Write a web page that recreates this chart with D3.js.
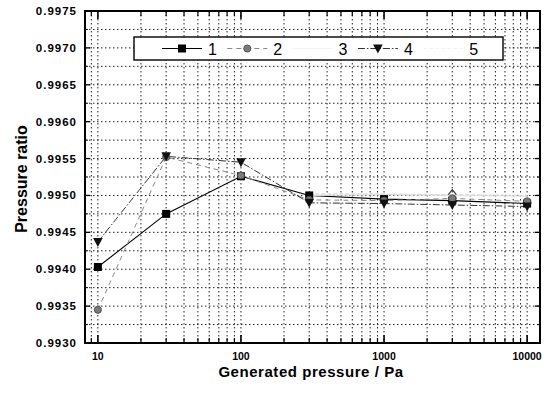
<!DOCTYPE html>
<html><head><meta charset="utf-8">
<script src="https://cdn.jsdelivr.net/npm/d3@7"></script>
<style>body{margin:0;background:#fff}svg{display:block}</style>
</head><body>
<script>
const pressures = [10, 30, 100, 300, 1000, 3000, 10000];
const series1 = [0.99403, 0.99475, 0.99526, 0.99500, 0.99495, 0.99493, 0.99489];
const series2 = [0.99345, 0.99552, 0.99527, 0.99494, 0.99493, 0.99496, 0.99492];
const series3 = [null, null, null, 0.99500, 0.99501, 0.99500, 0.99499];
const series4 = [0.99437, 0.99553, 0.99545, 0.99490, 0.99489, 0.99487, 0.99485];
const series5 = [null, null, null, 0.99502, 0.99502, 0.99501, 0.99500];
const seriesNames = ["1", "2", "3", "4", "5"];
const yTickLabels = ["0.9930","0.9935","0.9940","0.9945","0.9950","0.9955","0.9960","0.9965","0.9970","0.9975"];
const xTickLabels = ["10", "100", "1000", "10000"];

const W = 551, H = 394;
const svg = d3.select("body").append("svg").attr("width", W).attr("height", H);
const L = 85, R = 540, T = 11, B = 343;
const x = d3.scaleLog().domain([Math.pow(10, 0.91), Math.pow(10, 4.09)]).range([L, R]);
const y = d3.scaleLinear().domain([0.9930, 0.9975]).range([B, T]);

const yMajor = yTickLabels.map(Number);
const yMinor = yMajor.slice(0, -1).map(v => v + 0.00025);
const yAll = yMajor.concat(yMinor);
const xAll = x.ticks();
const xMajor = xTickLabels.map(Number);

// grid
const g = svg.append("g");
g.selectAll("line.h").data(yAll.filter(v => v > 0.99301 && v < 0.99749)).join("line")
  .attr("x1", L).attr("x2", R).attr("y1", d => y(d)).attr("y2", d => y(d))
  .attr("stroke", "#222").attr("stroke-width", 1).attr("stroke-dasharray", "1.5,2.5");
g.selectAll("line.v").data(xAll).join("line")
  .attr("y1", T).attr("y2", B).attr("x1", d => x(d)).attr("x2", d => x(d))
  .attr("stroke", "#222").attr("stroke-width", 1).attr("stroke-dasharray", "1.5,2.5");

// series
const defs = [
  {v: series1, color: "#000", dash: null, w: 1.1, marker: "square"},
  {v: series2, color: "#888", dash: "5,4", w: 1, marker: "circle"},
  {v: series3, color: "#e2e2e2", dash: null, w: 1.2, marker: "none", legendColor: "#f4f4f4"},
  {v: series4, color: "#333", dash: "7,2,1.5,2", w: 1, marker: "tri"},
  {v: series5, color: "#dadada", dash: "4,2", w: 1.2, marker: "none", legendColor: "#f4f4f4"}
];
const line = d3.line().defined(d => d[1] != null).x(d => x(d[0])).y(d => y(d[1]));
function drawMarker(sel, type, cx, cy) {
  if (type === "square") {
    sel.append("rect").attr("x", cx - 4).attr("y", cy - 4).attr("width", 8).attr("height", 8).attr("fill", "#000");
  } else if (type === "circle") {
    sel.append("circle").attr("cx", cx).attr("cy", cy).attr("r", 3.6).attr("fill", "#7a7a7a").attr("stroke", "#444").attr("stroke-width", 0.8);
  } else if (type === "tri") {
    sel.append("path").attr("d", `M${cx-4.8},${cy-4} L${cx+4.8},${cy-4} L${cx},${cy+5} Z`).attr("fill", "#111");
  }
}
const sg = svg.append("g");
defs.forEach(s => {
  const pts = pressures.map((p, i) => [p, s.v[i]]);
  sg.append("path").attr("d", line(pts)).attr("fill", "none").attr("stroke", s.color)
    .attr("stroke-width", s.w).attr("stroke-dasharray", s.dash);
});
defs.forEach(s => {
  pressures.forEach((p, i) => { if (s.v[i] != null) drawMarker(sg, s.marker, x(p), y(s.v[i])); });
});
// open diamond seen at 3000
sg.append("path").attr("d", () => { const cx = x(3000), cy = y(series5[5]) - 1; return `M${cx-4},${cy+1} L${cx},${cy-4} L${cx+4},${cy+1}`; })
  .attr("fill", "none").attr("stroke", "#333").attr("stroke-width", 1.2);

// ticks
const tk = svg.append("g").attr("stroke", "#000");
yMajor.forEach(v => {
  tk.append("line").attr("x1", L).attr("x2", L + 5).attr("y1", y(v)).attr("y2", y(v)).attr("stroke-width", 1.3);
  tk.append("line").attr("x1", R).attr("x2", R - 5).attr("y1", y(v)).attr("y2", y(v)).attr("stroke-width", 1.3);
});
yMinor.forEach(v => {
  tk.append("line").attr("x1", L).attr("x2", L + 3).attr("y1", y(v)).attr("y2", y(v)).attr("stroke-width", 1);
  tk.append("line").attr("x1", R).attr("x2", R - 3).attr("y1", y(v)).attr("y2", y(v)).attr("stroke-width", 1);
});
xAll.forEach(v => {
  const major = xMajor.includes(v);
  const len = major ? 8 : 5;
  tk.append("line").attr("x1", x(v)).attr("x2", x(v)).attr("y1", B).attr("y2", B - len).attr("stroke-width", major ? 1.6 : 1.2);
  tk.append("line").attr("x1", x(v)).attr("x2", x(v)).attr("y1", T).attr("y2", T + len).attr("stroke-width", major ? 1.6 : 1.2);
});

// legend
const lg = svg.append("g");
lg.append("rect").attr("x", 134).attr("y", 37).attr("width", 369).attr("height", 23)
  .attr("fill", "#fff").attr("stroke", "#000").attr("stroke-width", 1.4);
seriesNames.forEach((n, i) => {
  const cx = 182 + 65.3 * i, cy = 48.5;
  const s = defs[i];
  lg.append("line").attr("x1", cx - 20).attr("x2", cx + 20).attr("y1", cy).attr("y2", cy)
    .attr("stroke", s.legendColor || s.color).attr("stroke-width", s.w).attr("stroke-dasharray", s.dash);
  drawMarker(lg, s.marker, cx, cy);
  lg.append("text").attr("x", cx + 26).attr("y", 55).text(n)
    .attr("font-family", "Liberation Sans, Arial, sans-serif").attr("font-size", 16).attr("fill", "#000");
});

// frame
svg.append("rect").attr("x", L).attr("y", T).attr("width", R - L).attr("height", B - T)
  .attr("fill", "none").attr("stroke", "#000").attr("stroke-width", 2);

// tick labels
const font = "Liberation Sans, Arial, sans-serif";
svg.append("g").selectAll("text").data(yTickLabels).join("text")
  .attr("x", 77).attr("y", d => y(+d) + 4).attr("text-anchor", "end")
  .attr("font-family", font).attr("font-weight", "bold").attr("font-size", 11.5)
  .attr("letter-spacing", 1).text(d => d);
svg.append("g").selectAll("text").data(xTickLabels).join("text")
  .attr("x", d => x(+d)).attr("y", 359.5).attr("text-anchor", "middle")
  .attr("font-family", font).attr("font-weight", "bold").attr("font-size", 10.5).text(d => d);

// axis titles
svg.append("text").attr("x", 311).attr("y", 376.5).attr("text-anchor", "middle")
  .attr("font-family", font).attr("font-weight", "bold").attr("font-size", 15).attr("letter-spacing", 0.55)
  .text("Generated pressure / Pa");
svg.append("text").attr("transform", "translate(27,179) rotate(-90)").attr("text-anchor", "middle")
  .attr("font-family", font).attr("font-weight", "bold").attr("font-size", 16)
  .text("Pressure ratio");
</script>
</body></html>
